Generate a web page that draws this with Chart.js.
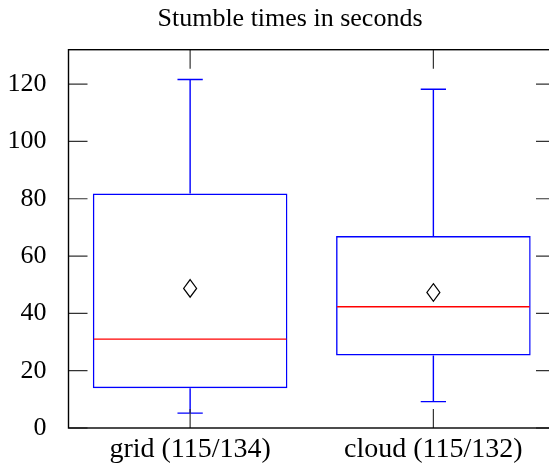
<!DOCTYPE html>
<html><head><meta charset="utf-8">
<script src="https://cdn.jsdelivr.net/npm/chart.js@4"></script>
<style>html,body{margin:0;padding:0;overflow:hidden;background:#fff}canvas{display:block}</style>
</head><body>
<canvas id="c" width="560" height="470"></canvas>
<script>
const categories = ['grid (115/134)', 'cloud (115/132)'];
const lowerWhisker = [5.2, 9.2];
const q1 = [13.9, 25.3];
const median = [31.0, 42.3];
const q3 = [81.8, 67.0];
const upperWhisker = [121.6, 118.2];
const means = [48.7, 47.3];
const yTicks = [0, 20, 40, 60, 80, 100, 120];
const yMin = 0, yMax = 132;

const FONT = "'Liberation Serif', 'DejaVu Serif', serif";
const LW = 1.4;

const boxExtras = {
  id: 'boxExtras',
  afterLayout(chart) {
    const t = chart.titleBlock;
    if (t) { t.left = 25; t.right = chart.chartArea.right; t.width = t.right - t.left; }
  },
  afterDatasetsDraw(chart) {
    const {ctx, scales: {x, y}} = chart;
    const step = x.getPixelForValue(1) - x.getPixelForValue(0);
    const boxHalf = step * 0.4;
    const capHalf = step * 0.052;
    const py = v => y.getPixelForValue(v);
    categories.forEach((c, i) => {
      const cx = x.getPixelForValue(i);
      ctx.save();
      ctx.lineWidth = LW;
      ctx.strokeStyle = 'rgb(0,0,255)';
      ctx.beginPath();
      ctx.moveTo(cx, py(q3[i])); ctx.lineTo(cx, py(upperWhisker[i]));
      ctx.moveTo(cx - capHalf, py(upperWhisker[i])); ctx.lineTo(cx + capHalf, py(upperWhisker[i]));
      ctx.moveTo(cx, py(q1[i])); ctx.lineTo(cx, py(lowerWhisker[i]));
      ctx.moveTo(cx - capHalf, py(lowerWhisker[i])); ctx.lineTo(cx + capHalf, py(lowerWhisker[i]));
      ctx.stroke();
      ctx.restore();

      ctx.save();
      ctx.lineWidth = LW;
      ctx.strokeStyle = 'rgb(255,0,0)';
      ctx.beginPath();
      ctx.moveTo(cx - boxHalf + 1, py(median[i]));
      ctx.lineTo(cx + boxHalf - 1, py(median[i]));
      ctx.stroke();
      ctx.restore();

      const my = py(means[i]);
      ctx.save();
      ctx.lineWidth = 1.2;
      ctx.strokeStyle = '#000';
      ctx.beginPath();
      ctx.moveTo(cx, my - 8.8);
      ctx.lineTo(cx + 6.5, my);
      ctx.lineTo(cx, my + 8.8);
      ctx.lineTo(cx - 6.5, my);
      ctx.closePath();
      ctx.stroke();
      ctx.restore();
    });
  },
  afterDraw(chart) {
    const {ctx, chartArea: a, scales: {x, y}} = chart;
    const tl = 19;
    ctx.save();
    ctx.lineWidth = 1.2;
    ctx.strokeStyle = '#333';
    ctx.beginPath();
    yTicks.forEach(v => {
      const p = y.getPixelForValue(v);
      ctx.moveTo(a.left, p); ctx.lineTo(a.left + tl, p);
      ctx.moveTo(a.right, p); ctx.lineTo(a.right - tl, p);
    });
    categories.forEach((c, i) => {
      const p = x.getPixelForValue(i);
      ctx.moveTo(p, a.top); ctx.lineTo(p, a.top + tl);
      ctx.moveTo(p, a.bottom); ctx.lineTo(p, a.bottom - tl);
    });
    ctx.stroke();
    ctx.strokeStyle = '#000';
    ctx.lineWidth = 1.4;
    ctx.strokeRect(a.left, a.top, a.right - a.left, a.bottom - a.top);
    ctx.restore();
  }
};

new Chart(document.getElementById('c'), {
  type: 'bar',
  data: {
    labels: categories,
    datasets: [{
      data: categories.map((c, i) => [q1[i], q3[i]]),
      backgroundColor: 'rgba(0,0,0,0)',
      borderColor: 'rgb(0,0,255)',
      borderWidth: LW,
      borderSkipped: false,
      barPercentage: 0.8,
      categoryPercentage: 1.0
    }]
  },
  options: {
    responsive: false,
    animation: false,
    layout: {padding: {left: 0, right: 5, top: 0, bottom: 0}},
    plugins: {
      legend: {display: false},
      tooltip: {enabled: false},
      title: {
        display: true,
        text: 'Stumble times in seconds',
        color: '#000',
        font: {family: FONT, size: 26, weight: 'normal', lineHeight: 1.2},
        padding: {top: 4, bottom: 14.5}
      }
    },
    scales: {
      x: {
        type: 'category',
        offset: true,
        grid: {display: false, drawTicks: false},
        border: {display: false},
        ticks: {color: '#000', font: {family: FONT, size: 28, lineHeight: 1.2}, padding: 5, maxRotation: 0, autoSkip: false},
        afterFit: s => { s.height = 42; }
      },
      y: {
        min: yMin, max: yMax,
        grid: {display: false, drawTicks: false},
        border: {display: false},
        ticks: {color: '#000', font: {family: FONT, size: 26}, padding: 22},
        afterBuildTicks: s => { s.ticks = yTicks.map(v => ({value: v})); },
        afterFit: s => { s.width = 68.5; }
      }
    }
  },
  plugins: [boxExtras]
});
</script>
</body></html>
